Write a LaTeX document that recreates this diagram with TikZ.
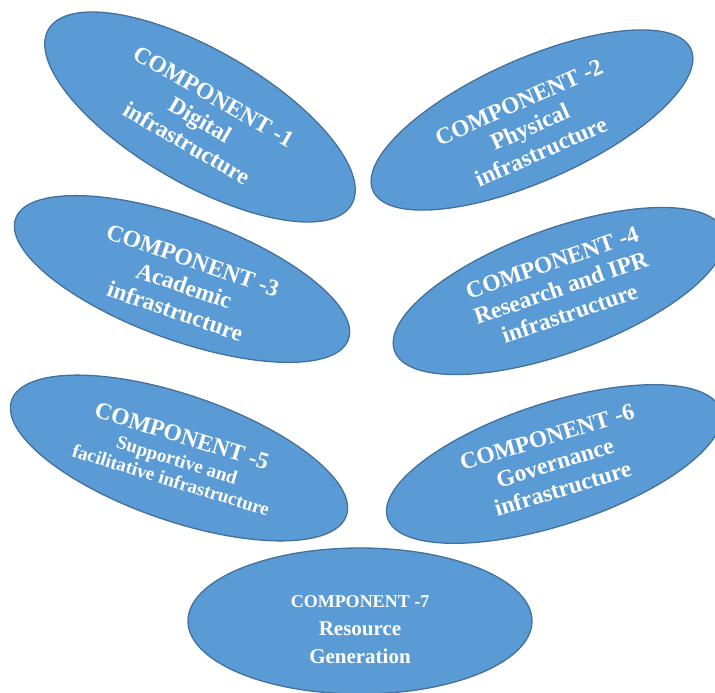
\documentclass[tikz,border=0pt]{standalone}
\usepackage{fontspec}
\setmainfont{Liberation Serif}
\usetikzlibrary{shapes.geometric}
\definecolor{blobfill}{HTML}{5B9BD5}
\definecolor{blobline}{HTML}{41719C}
\tikzset{
  blob/.style={ellipse, fill=blobfill, draw=blobline, line width=1.3pt, inner sep=0pt},
  txt/.style={text=white, align=center, font=\bfseries\fontsize{23.5}{27}\selectfont, inner sep=0pt},
  txtsmall/.style={text=white, align=center, font=\bfseries\fontsize{19}{21}\selectfont, inner sep=0pt}
}
\begin{document}
\begin{tikzpicture}[x=1pt,y=-1pt]
\useasboundingbox (0,0) rectangle (715,693);
\clip (0,0) rectangle (715,693);
% ellipses
\node[blob, minimum width=350pt, minimum height=134pt, rotate=-30] (c1) at (200,117) {};
\node[blob, minimum width=348pt, minimum height=122pt, rotate=24] (c2) at (532,120) {};
\node[blob, minimum width=354pt, minimum height=122pt, rotate=-20] (c3) at (182,279) {};
\node[blob, minimum width=350pt, minimum height=124pt, rotate=20] (c4) at (559,291) {};
\node[blob, minimum width=354pt, minimum height=126pt, rotate=-19] (c5) at (179,458) {};
\node[blob, minimum width=350pt, minimum height=122pt, rotate=18] (c6) at (554,464) {};
\node[blob, minimum width=344pt, minimum height=146pt] (c7) at (360,621) {};
% texts
\node[txt, rotate=-30] (t1) at (200,120) {COMPONENT -1\\Digital\\infrastructure};
\node[txt, rotate=24] (t2) at (530,127) {COMPONENT -2\\Physical\\infrastructure};
\node[txt, rotate=-19] (t3) at (184,286) {COMPONENT -3\\Academic\\infrastructure};
\node[txt, rotate=19] (t4) at (561,288) {COMPONENT -4\\Research and IPR\\infrastructure};
\node[txt, rotate=-17, font=\bfseries\fontsize{23.5}{22}\selectfont] (t5a) at (182,436) {COMPONENT -5};
\node[txtsmall, rotate=-17] (t5b) at (174,470) {Supportive and\\facilitative infrastructure};
\node[txt, rotate=17] (t6) at (555,463) {COMPONENT -6\\Governance\\infrastructure};
\node[text=white, align=center, font=\bfseries\fontsize{18}{27}\selectfont, inner sep=0pt] (t7a) at (360,602) {COMPONENT -7};
\node[text=white, align=center, font=\bfseries\fontsize{21}{28}\selectfont, inner sep=0pt] (t7b) at (360,643) {Resource\\Generation};
\end{tikzpicture}
\end{document}
